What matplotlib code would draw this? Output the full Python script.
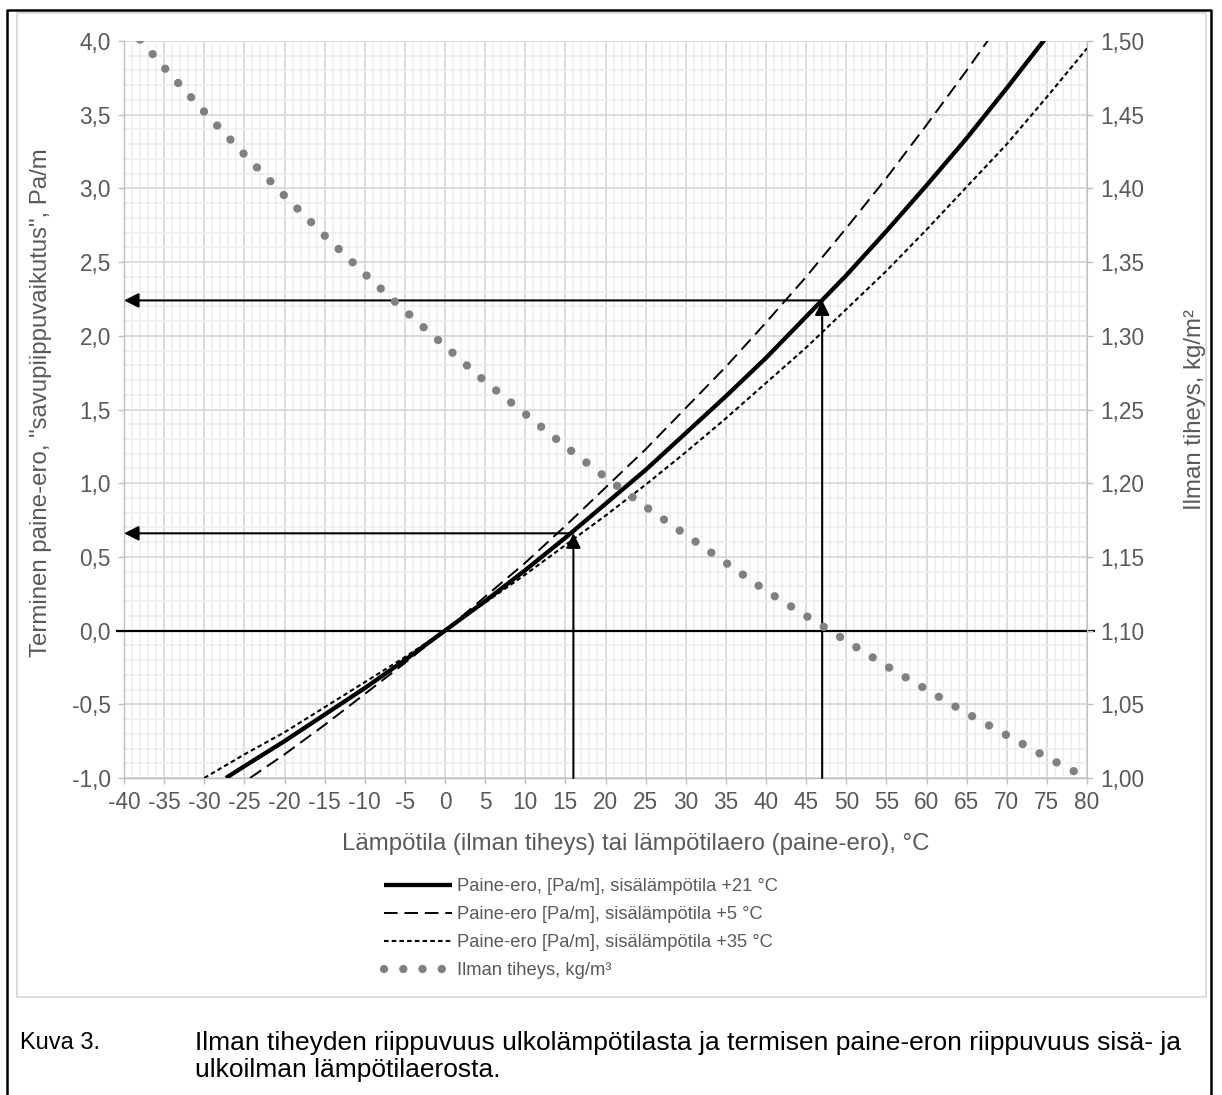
import matplotlib
matplotlib.use("Agg")
import matplotlib.pyplot as plt
from matplotlib.ticker import MultipleLocator, FixedLocator
from matplotlib.lines import Line2D

plt.rcParams['font.family'] = ['Liberation Sans', 'DejaVu Sans']

# ---------------- data ----------------
# pressure difference [Pa/m] vs temperature difference, indoor +21 C
dt_21 = [-27.3, -25, -20, -15, -10, -5, 0, 5, 10, 15, 20, 25, 30, 35, 40, 45, 50, 55, 60, 65, 70, 75]
dp_21 = [-1.00, -0.92, -0.75, -0.57, -0.39, -0.20, 0.00, 0.20, 0.41, 0.63, 0.86, 1.09, 1.34, 1.59,
         1.85, 2.13, 2.41, 2.71, 3.02, 3.34, 3.68, 4.03]
# indoor +5 C
dt_5 = [-24.3, -20, -15, -10, -5, 0, 5, 10, 15, 20, 25, 30, 35, 40, 45, 50, 55, 60, 65, 68]
dp_5 = [-1.00, -0.84, -0.64, -0.43, -0.22, 0.00, 0.23, 0.46, 0.71, 0.97, 1.23, 1.51, 1.79,
        2.09, 2.40, 2.73, 3.07, 3.43, 3.80, 4.03]
# indoor +35 C
dt_35 = [-30, -25, -20, -15, -10, -5, 0, 5, 10, 15, 20, 25, 30, 35, 40, 45, 50, 55, 60, 65, 70, 75, 80]
dp_35 = [-1.00, -0.84, -0.69, -0.52, -0.35, -0.18, 0.00, 0.19, 0.38, 0.58, 0.78, 0.99, 1.21,
         1.44, 1.68, 1.92, 2.18, 2.44, 2.72, 3.01, 3.30, 3.62, 3.95]
# air density [kg/m3] vs outdoor temperature
t_rho = [-38, -35, -30, -25, -20, -15, -10, -5, 0, 5, 10, 15, 20, 25, 30, 35, 40, 45, 50, 55,
         60, 65, 70, 75, 80]
rho = [1.501, 1.482, 1.452, 1.423, 1.395, 1.368, 1.342, 1.317, 1.293, 1.269, 1.247, 1.225,
       1.204, 1.184, 1.165, 1.146, 1.127, 1.110, 1.093, 1.076, 1.060, 1.044, 1.029, 1.014, 1.000]

# example read-off arrows (temperature difference -> pressure difference)
arrow_dt = [16, 47]
arrow_dp = [0.66, 2.24]

x_ticks = list(range(-40, 81, 5))
x_ticklabels = [str(v) for v in x_ticks]
y_ticks = [-1.0, -0.5, 0.0, 0.5, 1.0, 1.5, 2.0, 2.5, 3.0, 3.5, 4.0]
y_ticklabels = ["-1,0", "-0,5", "0,0", "0,5", "1,0", "1,5", "2,0", "2,5", "3,0", "3,5", "4,0"]
y2_ticks = [1.00, 1.05, 1.10, 1.15, 1.20, 1.25, 1.30, 1.35, 1.40, 1.45, 1.50]
y2_ticklabels = ["1,00", "1,05", "1,10", "1,15", "1,20", "1,25", "1,30", "1,35", "1,40", "1,45", "1,50"]

labels = ["Paine-ero, [Pa/m], sisälämpötila +21 °C",
          "Paine-ero [Pa/m], sisälämpötila +5 °C",
          "Paine-ero [Pa/m], sisälämpötila +35 °C",
          "Ilman tiheys, kg/m³"]

# ---------------- figure ----------------
W, H = 1222, 1095
fig = plt.figure(figsize=(W / 100, H / 100), dpi=100)
fig.patch.set_facecolor('white')

L, R, T, B = 124, 1087, 41, 778
ax = fig.add_axes([L / W, 1 - B / H, (R - L) / W, (B - T) / H])
ax.set_xlim(-40, 80)
ax.set_ylim(-1.0, 4.0)

txt = '#595959'
gridc = '#d9d9d9'
tickfs = 16.3
labfs = 17.3

ax.xaxis.set_major_locator(FixedLocator(x_ticks))
ax.set_xticklabels(x_ticklabels)
ax.xaxis.set_minor_locator(MultipleLocator(1))
ax.yaxis.set_major_locator(FixedLocator(y_ticks))
ax.set_yticklabels(y_ticklabels)
ax.yaxis.set_minor_locator(MultipleLocator(0.1))

ax.grid(True, which='minor', color='#ededed', lw=1.1, zorder=0)
ax.grid(True, which='major', color=gridc, lw=1.3, zorder=0)
ax.set_axisbelow(True)

for s in ['top', 'right']:
    ax.spines[s].set_visible(False)
for s in ['left', 'bottom']:
    ax.spines[s].set_color('#bfbfbf')
    ax.spines[s].set_linewidth(1.0)

ax.tick_params(which='major', length=4.5, width=1.0, color='#bfbfbf', labelcolor=txt,
               labelsize=tickfs, pad=5)
ax.tick_params(which='minor', length=0)

# zero line
ax.axhline(0, xmin=-0.007, xmax=1.007, color='black', lw=1.6, clip_on=False, zorder=3)

l1, = ax.plot(dt_21, dp_21, color='black', lw=3.1, solid_capstyle='butt', zorder=4)
l2, = ax.plot(dt_5, dp_5, color='black', lw=1.4, dashes=(7, 3.5), zorder=4)
l3, = ax.plot(dt_35, dp_35, color='black', lw=1.5, dashes=(2.2, 1.5), zorder=4)

# arrows
aprops = dict(arrowstyle='-|>', color='black', lw=1.5, mutation_scale=22,
              shrinkA=0, shrinkB=0)
for xv, yv in zip(arrow_dt, arrow_dp):
    ax.annotate('', xy=(xv, yv), xytext=(xv, ax.get_ylim()[0]), arrowprops=aprops, zorder=5)
    ax.annotate('', xy=(ax.get_xlim()[0], yv), xytext=(xv, yv), arrowprops=aprops, zorder=5)

ax.set_xlabel("Lämpötila (ilman tiheys) tai lämpötilaero (paine-ero), °C",
              color=txt, fontsize=labfs)
ax.xaxis.set_label_coords((636 - L) / (R - L), -(833 - B) / (B - T))
ax.set_ylabel('Terminen paine-ero, "savupiippuvaikutus", Pa/m', color=txt, fontsize=labfs)
ax.yaxis.set_label_coords((52 - L) / (R - L), 0.51)

# secondary axis: density
ax2 = ax.twinx()
ax2.set_ylim(1.0, 1.5)
ax2.yaxis.set_major_locator(FixedLocator(y2_ticks))
ax2.set_yticklabels(y2_ticklabels)
for s in ['top', 'left', 'bottom']:
    ax2.spines[s].set_visible(False)
ax2.spines['right'].set_color('#bfbfbf')
ax2.tick_params(length=4.5, width=1.0, color='#bfbfbf', labelcolor=txt, labelsize=tickfs, pad=5)
l4, = ax2.plot(t_rho, rho, color='#808080', lw=6.0, linestyle=(0, (0.01, 2.3)),
               dash_capstyle='round', zorder=3)
ax2.set_ylabel("Ilman tiheys, kg/m²", color=txt, fontsize=labfs, rotation=90)
ax2.yaxis.set_label_coords((1184 - L) / (R - L), 0.5)

# legend
leg = fig.legend([l1, l2, l3, l4], labels, loc='upper left',
                 bbox_to_anchor=(384 / W, 1 - 878 / H), frameon=False,
                 fontsize=13.2, handlelength=3.7, handletextpad=0.3,
                 borderpad=0, borderaxespad=0, labelspacing=0.6)
for t in leg.get_texts():
    t.set_color(txt)

# frames
fig.add_artist(Line2D([17 / W, 17 / W, 1206 / W, 1206 / W, 17 / W],
                      [1 - 997 / H, 1 - 13 / H, 1 - 13 / H, 1 - 997 / H, 1 - 997 / H],
                      color='#d9d9d9', lw=1.3))
fig.add_artist(Line2D([7 / W, 7 / W, 1211 / W, 1211 / W],
                      [0, 1 - 10 / H, 1 - 10 / H, 0], color='black', lw=1.8))

# caption
fig.text(20 / W, 1 - 1043 / H, "Kuva 3.", fontsize=17, color='black', va='center', ha='left')
fig.text(195 / W, 1 - 1043 / H,
         "Ilman tiheyden riippuvuus ulkolämpötilasta ja termisen paine-eron riippuvuus sisä- ja",
         fontsize=19, color='black', va='center', ha='left')
fig.text(195 / W, 1 - 1070 / H, "ulkoilman lämpötilaerosta.",
         fontsize=19, color='black', va='center', ha='left')

fig.savefig("out.png", dpi=100)
